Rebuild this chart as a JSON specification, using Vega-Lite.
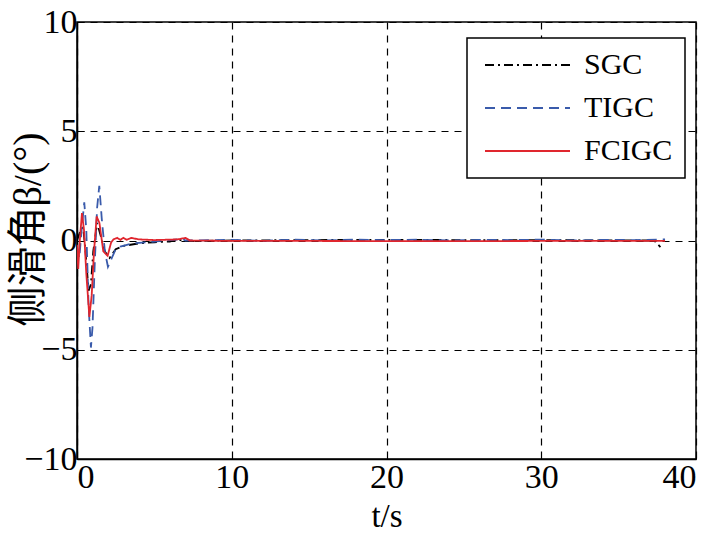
{
  "$schema": "https://vega.github.io/schema/vega-lite/v6.json",
  "width": 619,
  "height": 437,
  "autosize": {"type": "none"},
  "padding": {"left": 77, "top": 22, "right": 32, "bottom": 79},
  "background": "white",
  "config": {
    "view": {"stroke": "black", "strokeWidth": 1.5},
    "font": "Liberation Serif",
    "axis": {
      "domainColor": "black",
      "domainWidth": 1.5,
      "tickColor": "black",
      "tickSize": -7,
      "labelColor": "black",
      "titleColor": "black",
      "labelFont": "Liberation Serif",
      "titleFont": "Liberation Serif, Noto Sans CJK SC",
      "labelFontSize": 34,
      "titleFontSize": 33,
      "titleFontWeight": "normal",
      "grid": true,
      "gridColor": "black",
      "gridOpacity": 1,
      "gridDash": [7, 6],
      "gridWidth": 1.2
    },
    "legend": {
      "title": null,
      "orient": "none",
      "legendX": 390,
      "legendY": 16,
      "symbolType": "M-0.9,0H7.6",
      "symbolSize": 400,
      "symbolStrokeWidth": 1.8,
      "labelFontSize": 30,
      "labelFont": "Liberation Serif",
      "labelColor": "black",
      "labelBaseline": "middle",
      "strokeColor": "black",
      "strokeWidth": 1.5,
      "fillColor": "white",
      "padding": 12,
      "rowPadding": 13,
      "labelOffset": 75
    }
  },
  "data": {
    "values": [
      {"t": 0, "beta": 0, "method": "SGC"},
      {"t": 0.2, "beta": 0.4, "method": "SGC"},
      {"t": 0.4, "beta": 0.6, "method": "SGC"},
      {"t": 0.55, "beta": -0.5, "method": "SGC"},
      {"t": 0.75, "beta": -2.3, "method": "SGC"},
      {"t": 0.9, "beta": -2.0, "method": "SGC"},
      {"t": 1.05, "beta": -0.5, "method": "SGC"},
      {"t": 1.3, "beta": 0.8, "method": "SGC"},
      {"t": 1.5, "beta": 0.3, "method": "SGC"},
      {"t": 1.8, "beta": -0.5, "method": "SGC"},
      {"t": 2.1, "beta": -0.8, "method": "SGC"},
      {"t": 2.5, "beta": -0.4, "method": "SGC"},
      {"t": 3.0, "beta": -0.25, "method": "SGC"},
      {"t": 4.0, "beta": -0.13, "method": "SGC"},
      {"t": 5.0, "beta": -0.08, "method": "SGC"},
      {"t": 6.0, "beta": -0.05, "method": "SGC"},
      {"t": 6.5, "beta": 0.05, "method": "SGC"},
      {"t": 7.0, "beta": -0.03, "method": "SGC"},
      {"t": 10, "beta": 0, "method": "SGC"},
      {"t": 15, "beta": 0.02, "method": "SGC"},
      {"t": 20, "beta": 0.03, "method": "SGC"},
      {"t": 25, "beta": 0.02, "method": "SGC"},
      {"t": 30, "beta": 0.02, "method": "SGC"},
      {"t": 35, "beta": 0, "method": "SGC"},
      {"t": 37.3, "beta": 0, "method": "SGC"},
      {"t": 37.7, "beta": -0.3, "method": "SGC"},

      {"t": 0, "beta": -0.3, "method": "TIGC"},
      {"t": 0.15, "beta": -0.8, "method": "TIGC"},
      {"t": 0.3, "beta": 0.5, "method": "TIGC"},
      {"t": 0.47, "beta": 1.75, "method": "TIGC"},
      {"t": 0.6, "beta": 0.5, "method": "TIGC"},
      {"t": 0.75, "beta": -3.0, "method": "TIGC"},
      {"t": 0.9, "beta": -4.9, "method": "TIGC"},
      {"t": 1.0, "beta": -4.0, "method": "TIGC"},
      {"t": 1.15, "beta": -1.0, "method": "TIGC"},
      {"t": 1.3, "beta": 1.5, "method": "TIGC"},
      {"t": 1.44, "beta": 2.5, "method": "TIGC"},
      {"t": 1.6, "beta": 1.0, "method": "TIGC"},
      {"t": 1.8, "beta": -0.5, "method": "TIGC"},
      {"t": 2.0, "beta": -1.2, "method": "TIGC"},
      {"t": 2.25, "beta": -0.8, "method": "TIGC"},
      {"t": 2.5, "beta": -0.4, "method": "TIGC"},
      {"t": 2.8, "beta": -0.28, "method": "TIGC"},
      {"t": 3.6, "beta": -0.13, "method": "TIGC"},
      {"t": 5.0, "beta": -0.05, "method": "TIGC"},
      {"t": 6.85, "beta": 0.07, "method": "TIGC"},
      {"t": 7.0, "beta": 0, "method": "TIGC"},
      {"t": 10, "beta": 0.03, "method": "TIGC"},
      {"t": 12, "beta": -0.02, "method": "TIGC"},
      {"t": 14, "beta": 0.04, "method": "TIGC"},
      {"t": 16, "beta": 0, "method": "TIGC"},
      {"t": 18, "beta": 0.04, "method": "TIGC"},
      {"t": 20, "beta": 0.02, "method": "TIGC"},
      {"t": 22, "beta": 0.04, "method": "TIGC"},
      {"t": 24, "beta": 0, "method": "TIGC"},
      {"t": 26, "beta": 0.03, "method": "TIGC"},
      {"t": 28, "beta": 0.02, "method": "TIGC"},
      {"t": 30, "beta": 0.04, "method": "TIGC"},
      {"t": 32, "beta": 0, "method": "TIGC"},
      {"t": 34, "beta": 0.03, "method": "TIGC"},
      {"t": 36, "beta": 0.02, "method": "TIGC"},
      {"t": 38, "beta": 0.05, "method": "TIGC"},

      {"t": 0, "beta": -0.2, "method": "FCIGC"},
      {"t": 0.08, "beta": -1.3, "method": "FCIGC"},
      {"t": 0.18, "beta": 0, "method": "FCIGC"},
      {"t": 0.32, "beta": 1.25, "method": "FCIGC"},
      {"t": 0.45, "beta": 0.5, "method": "FCIGC"},
      {"t": 0.6, "beta": -1.5, "method": "FCIGC"},
      {"t": 0.8, "beta": -3.5, "method": "FCIGC"},
      {"t": 0.95, "beta": -2.5, "method": "FCIGC"},
      {"t": 1.1, "beta": -0.5, "method": "FCIGC"},
      {"t": 1.27, "beta": 1.1, "method": "FCIGC"},
      {"t": 1.45, "beta": 0.8, "method": "FCIGC"},
      {"t": 1.7, "beta": -0.5, "method": "FCIGC"},
      {"t": 1.98, "beta": -0.7, "method": "FCIGC"},
      {"t": 2.2, "beta": -0.1, "method": "FCIGC"},
      {"t": 2.35, "beta": 0.05, "method": "FCIGC"},
      {"t": 2.6, "beta": 0.12, "method": "FCIGC"},
      {"t": 2.8, "beta": 0.03, "method": "FCIGC"},
      {"t": 3.0, "beta": 0.12, "method": "FCIGC"},
      {"t": 3.2, "beta": 0.03, "method": "FCIGC"},
      {"t": 3.5, "beta": 0.12, "method": "FCIGC"},
      {"t": 4.0, "beta": 0.05, "method": "FCIGC"},
      {"t": 5.0, "beta": 0.02, "method": "FCIGC"},
      {"t": 6.5, "beta": 0.05, "method": "FCIGC"},
      {"t": 7.0, "beta": 0.12, "method": "FCIGC"},
      {"t": 7.3, "beta": 0, "method": "FCIGC"},
      {"t": 10, "beta": -0.02, "method": "FCIGC"},
      {"t": 15, "beta": -0.02, "method": "FCIGC"},
      {"t": 20, "beta": -0.03, "method": "FCIGC"},
      {"t": 25, "beta": -0.03, "method": "FCIGC"},
      {"t": 30, "beta": -0.02, "method": "FCIGC"},
      {"t": 35, "beta": -0.02, "method": "FCIGC"},
      {"t": 38, "beta": -0.02, "method": "FCIGC"}
    ]
  },
  "mark": {"type": "line", "strokeWidth": 1.8, "clip": true},
  "encoding": {
    "x": {
      "field": "t",
      "type": "quantitative",
      "scale": {"domain": [0, 40], "nice": false, "zero": false},
      "axis": {
        "values": [0, 10, 20, 30, 40],
        "title": "t/s",
        "titlePadding": 6,
        "labelPadding": 8
      }
    },
    "y": {
      "field": "beta",
      "type": "quantitative",
      "scale": {"domain": [-10, 10], "nice": false},
      "axis": {
        "values": [-10, -5, 0, 5, 10],
        "title": "侧滑角β/(°)",
        "titleFontSize": 40,
        "titleAngle": -90,
        "titleX": -49,
        "titleY": 207,
        "titleAlign": "center",
        "titleBaseline": "middle",
        "labelPadding": 7
      }
    },
    "color": {
      "field": "method",
      "type": "nominal",
      "sort": ["SGC", "TIGC", "FCIGC"],
      "scale": {"domain": ["SGC", "TIGC", "FCIGC"], "range": ["#000000", "#3a5bab", "#e0262e"]}
    },
    "strokeDash": {
      "field": "method",
      "type": "nominal",
      "sort": ["SGC", "TIGC", "FCIGC"],
      "scale": {"domain": ["SGC", "TIGC", "FCIGC"], "range": [[9, 4, 2, 4], [10, 6], [1, 0]]}
    }
  }
}
